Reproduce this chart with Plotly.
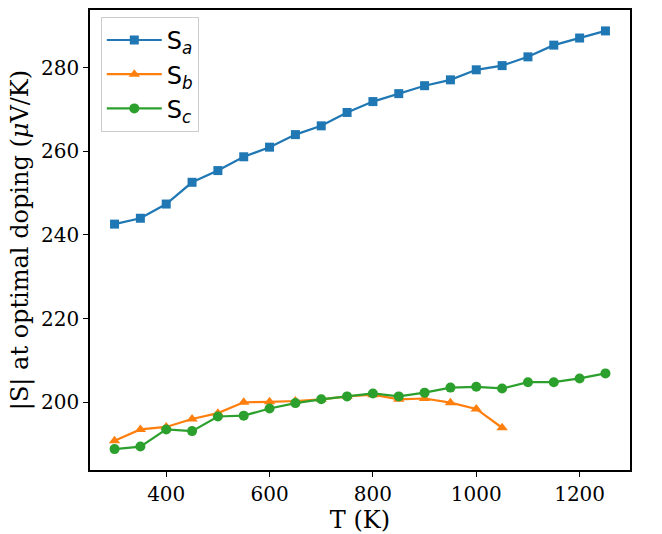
import plotly.graph_objects as go

T_a = [300, 350, 400, 450, 500, 550, 600, 650, 700, 750, 800, 850, 900, 950, 1000, 1050, 1100, 1150, 1200, 1250]
S_a = [242.6, 244.0, 247.4, 252.6, 255.4, 258.7, 261.0, 264.0, 266.1, 269.3, 271.9, 273.8, 275.7, 277.1, 279.5, 280.5, 282.6, 285.4, 287.1, 288.8]

T_b = [300, 350, 400, 450, 500, 550, 600, 650, 700, 750, 800, 850, 900, 950, 1000, 1050]
S_b = [190.8, 193.5, 194.1, 196.0, 197.4, 200.0, 200.1, 200.3, 200.7, 201.4, 201.8, 200.7, 200.9, 199.9, 198.4, 193.9]

T_c = [300, 350, 400, 450, 500, 550, 600, 650, 700, 750, 800, 850, 900, 950, 1000, 1050, 1100, 1150, 1200, 1250]
S_c = [188.8, 189.4, 193.5, 193.1, 196.6, 196.8, 198.5, 199.8, 200.7, 201.4, 202.1, 201.4, 202.3, 203.5, 203.7, 203.3, 204.8, 204.8, 205.7, 206.9]

x_ticks = [400, 600, 800, 1000, 1200]
y_ticks = [200, 220, 240, 260, 280]

FONT = "DejaVu Serif"

fig = go.Figure()
fig.add_trace(go.Scatter(x=T_a, y=S_a, mode="lines+markers", name="S<sub><i>a</i></sub>",
                         line=dict(color="#1f77b4", width=2.2),
                         marker=dict(symbol="square", size=9, color="#1f77b4")))
fig.add_trace(go.Scatter(x=T_b, y=S_b, mode="lines+markers", name="S<sub><i>b</i></sub>",
                         line=dict(color="#ff7f0e", width=2.2),
                         marker=dict(symbol="triangle-up", size=10, color="#ff7f0e")))
fig.add_trace(go.Scatter(x=T_c, y=S_c, mode="lines+markers", name="S<sub><i>c</i></sub>",
                         line=dict(color="#2ca02c", width=2.2),
                         marker=dict(symbol="circle", size=10, color="#2ca02c")))

fig.update_layout(
    width=662, height=534,
    margin=dict(l=90, r=32, t=8, b=64),
    plot_bgcolor="white", paper_bgcolor="white",
    font=dict(family=FONT, size=20, color="black"),
    showlegend=True,
    legend=dict(x=0.02, y=0.985, xanchor="left", yanchor="top",
                bgcolor="rgba(255,255,255,0.8)", bordercolor="#cccccc", borderwidth=1,
                font=dict(family="DejaVu Sans", size=24), tracegroupgap=2, itemwidth=55),
)
fig.update_xaxes(range=[252.5, 1297.5], tickvals=x_ticks, ticks="outside", ticklen=5, tickwidth=1,
                 tickcolor="black", showline=True, linecolor="black", linewidth=1.5, mirror=True,
                 showgrid=False, zeroline=False, title=dict(text="T (K)", standoff=2),
                 tickfont=dict(family=FONT, size=20))
fig.update_yaxes(range=[183.8, 293.8], tickvals=y_ticks, ticks="outside", ticklen=5, tickwidth=1,
                 tickcolor="black", showline=True, linecolor="black", linewidth=1.5, mirror=True,
                 showgrid=False, zeroline=False,
                 title=dict(text="|S| at optimal doping (<i>μ</i>V/K)", standoff=6),
                 tickfont=dict(family=FONT, size=20))

fig.write_html("out.html")
